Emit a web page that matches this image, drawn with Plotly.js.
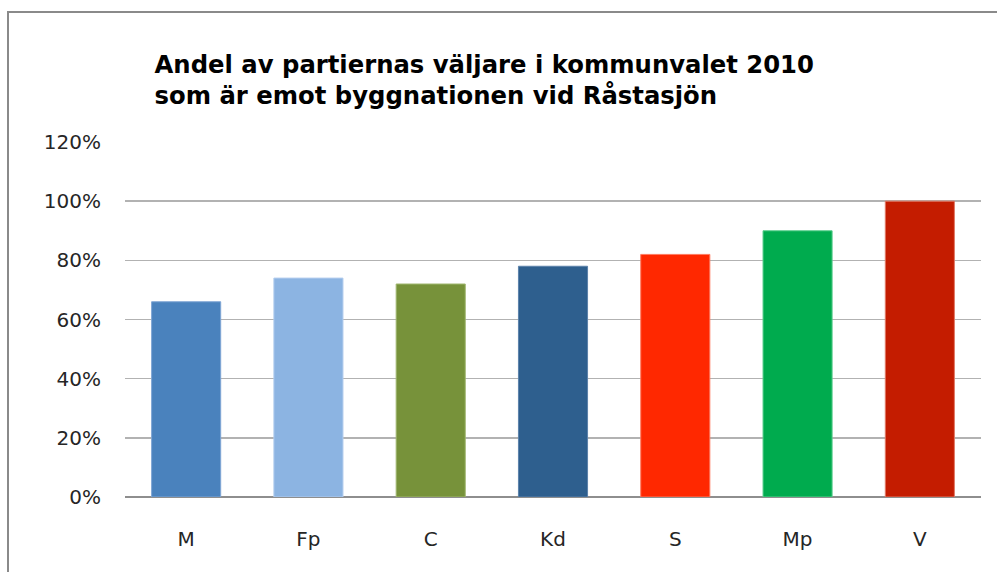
<!DOCTYPE html>
<html>
<head>
<meta charset="utf-8">
<script src="https://cdn.plot.ly/plotly-3.0.1.min.js"></script>
<style>
html,body{margin:0;padding:0;background:#fff;}
#wrap{position:relative;width:997px;height:572px;overflow:hidden;}
#chart{width:997px;height:572px;}
#frame{position:absolute;left:7px;top:11px;width:1100px;height:700px;border-top:2px solid #8a8a8a;border-left:2px solid #8a8a8a;pointer-events:none;}
</style>
</head>
<body>
<div id="wrap">
<div id="chart"></div>
<div id="frame"></div>
</div>
<script>
var parties = ["M", "Fp", "C", "Kd", "S", "Mp", "V"];
var shares = [0.66, 0.74, 0.72, 0.78, 0.82, 0.90, 1.00];
var barColors = ["#4a82bd", "#8cb4e2", "#77923a", "#2e5f8e", "#ff2800", "#00ab4e", "#c41c00"];
var edgeColors = ["#7fa6d4", "#b3cdee", "#a0b76f", "#5c82aa", "#ff7a60", "#5ccf8f", "#e07a66"];
var yTicks = [0, 0.2, 0.4, 0.6, 0.8, 1.0, 1.2];
var yTickText = ["0%", "20%", "40%", "60%", "80%", "100%", "120%"];

var trace = {
  type: "bar",
  x: parties,
  y: shares,
  marker: {color: barColors, line: {color: edgeColors, width: 1}},
  hoverinfo: "x+y"
};

var layout = {
  width: 997,
  height: 572,
  paper_bgcolor: "#ffffff",
  plot_bgcolor: "#ffffff",
  margin: {l: 125, r: 16, t: 142, b: 75},
  bargap: 0.435,
  showlegend: false,
  font: {family: "DejaVu Sans, sans-serif", color: "#262626", size: 20},
  title: {
    text: "<b>Andel av partiernas väljare i kommunvalet 2010<br>som är emot byggnationen vid Råstasjön</b>",
    font: {family: "DejaVu Sans, sans-serif", size: 24.3, color: "#000000"},
    xref: "container", x: 0.155, xanchor: "left",
    yref: "container", y: 0.873, yanchor: "top"
  },
  xaxis: {
    type: "category",
    showgrid: false,
    showline: false,
    zeroline: false,
    ticks: "outside",
    ticklen: 24,
    tickcolor: "rgba(0,0,0,0)",
    tickfont: {size: 20, color: "#262626"}
  },
  yaxis: {
    range: [0, 1.2],
    tickvals: yTicks,
    ticktext: yTickText,
    showgrid: true,
    gridcolor: "#b2b2b2",
    gridwidth: 1.5,
    zeroline: true,
    zerolinecolor: "#8e8e8e",
    zerolinewidth: 1.5,
    showline: false,
    ticks: "outside",
    ticklen: 19,
    tickcolor: "rgba(0,0,0,0)",
    tickfont: {size: 20, color: "#262626"}
  }
};

Plotly.newPlot("chart", [trace], layout, {displayModeBar: false, staticPlot: true});
</script>
</body>
</html>
